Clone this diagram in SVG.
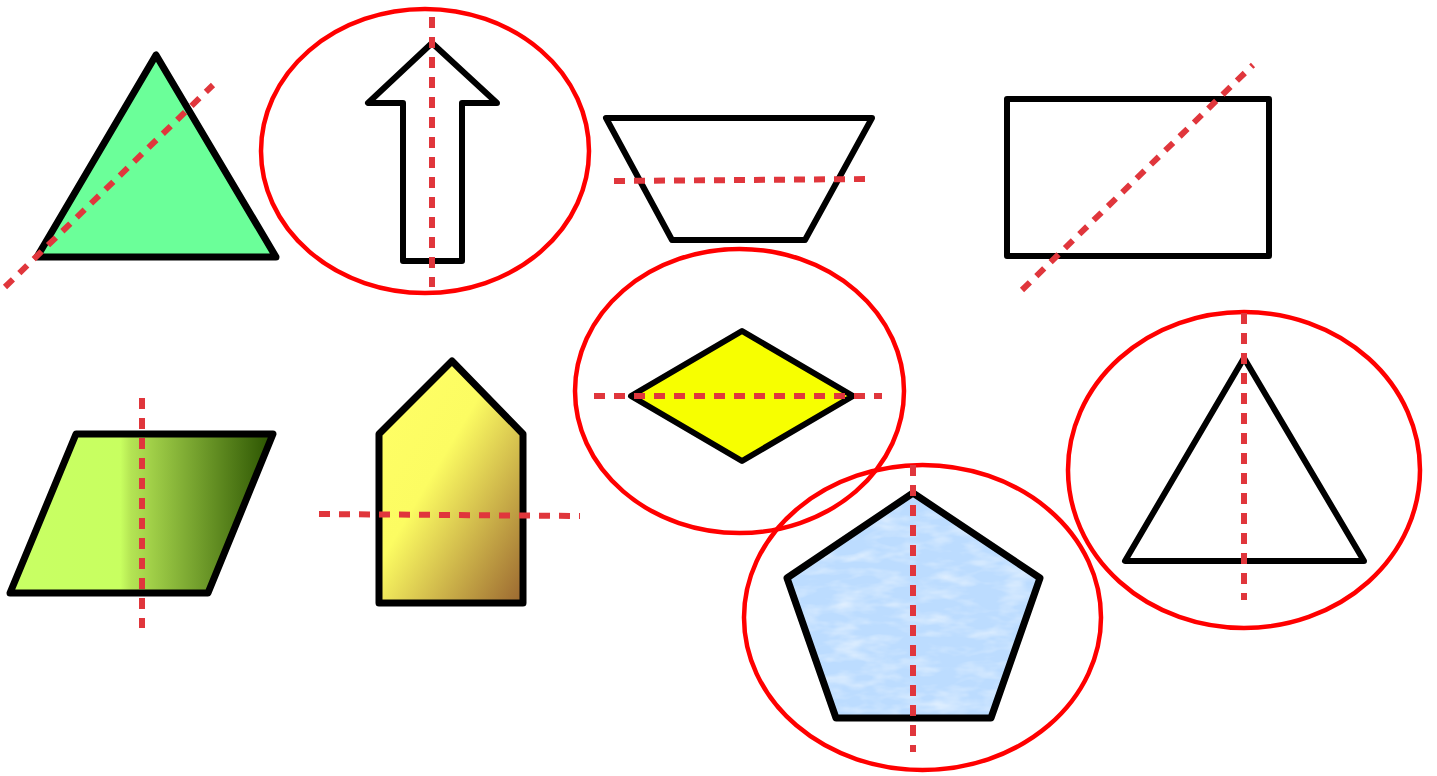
<svg xmlns="http://www.w3.org/2000/svg" width="1437" height="776" viewBox="0 0 1437 776">
<style>
.sh{stroke:#000;stroke-width:7;stroke-linejoin:round}
.thin{stroke-width:6}
.ring{fill:none;stroke:#ff0000;stroke-width:4.5}
.axis{fill:none;stroke:#e0363c;stroke-width:6;stroke-dasharray:11 9}
</style>
<defs>
<linearGradient id="gPar" x1="0" y1="0" x2="1" y2="0">
<stop offset="0" stop-color="#c8ff64"/>
<stop offset="0.42" stop-color="#c8ff60"/>
<stop offset="0.46" stop-color="#b4e454"/>
<stop offset="1" stop-color="#2a5200"/>
</linearGradient>
<linearGradient id="gHouse" x1="0" y1="0" x2="1" y2="1">
<stop offset="0" stop-color="#ffff66"/>
<stop offset="0.42" stop-color="#fcfc62"/>
<stop offset="1" stop-color="#9a6630"/>
</linearGradient>
<filter id="cloud" x="0" y="0" width="1" height="1">
<feTurbulence type="fractalNoise" baseFrequency="0.03 0.08" numOctaves="3" seed="4" result="n"/>
<feColorMatrix in="n" type="matrix" values="0 0 0 0 0.72  0 0 0 0 0.85  0 0 0 0 1  0 0 0 0 0" result="base"/>
<feColorMatrix in="n" type="matrix" values="0 0 0 0 0.88  0 0 0 0 0.94  0 0 0 0 1  1.4 0 0 0 -0.6" result="hi"/>
<feMerge result="tex"><feMergeNode in="base"/><feMergeNode in="hi"/></feMerge>
<feComposite in="tex" in2="SourceGraphic" operator="in"/>
</filter>
</defs>

<g id="triangle-green">
<polygon class="sh" fill="#6bff99" points="156,55 37,257 276,257"/>
<line class="axis" x1="5" y1="287" x2="213" y2="85"/>
</g>

<g id="arrow-up">
<ellipse class="ring" cx="425" cy="151" rx="164" ry="142"/>
<polygon class="sh thin" fill="#fff" points="432,43 368,103 403,103 403,261 462,261 462,103 497,103"/>
<line class="axis" x1="432" y1="17" x2="432" y2="287"/>
</g>

<g id="trapezoid">
<polygon class="sh thin" fill="#fff" points="606,118 872,118 805,240 672,240"/>
<line class="axis" x1="614" y1="181" x2="870" y2="179"/>
</g>

<g id="rectangle">
<rect class="sh thin" fill="#fff" x="1007" y="99" width="262" height="157"/>
<line class="axis" x1="1022" y1="290" x2="1253" y2="65"/>
</g>

<g id="parallelogram">
<polygon class="sh" fill="url(#gPar)" points="76,434 273,434 208,593 10,593"/>
<line class="axis" x1="142" y1="398" x2="142" y2="628"/>
</g>

<g id="house">
<polygon class="sh" fill="url(#gHouse)" points="452,361 523,434 523,603 379,603 379,434"/>
<line class="axis" x1="319" y1="514" x2="580" y2="516"/>
</g>

<g id="diamond">
<ellipse class="ring" cx="739.5" cy="391" rx="164.5" ry="142"/>
<polygon class="sh thin" fill="#f7ff00" points="631,396 742,331 853,396 742,461"/>
<line class="axis" x1="594" y1="396" x2="882" y2="396"/>
</g>

<g id="pentagon">
<ellipse class="ring" cx="922.5" cy="617.5" rx="178.5" ry="152.5"/>
<polygon fill="#bcdcff" points="913,493 1040,578 991,718 836,718 787,578"/>
<polygon filter="url(#cloud)" fill="#000" points="913,493 1040,578 991,718 836,718 787,578"/>
<polygon class="sh" fill="none" points="913,493 1040,578 991,718 836,718 787,578"/>
<line class="axis" x1="913" y1="465" x2="913" y2="752"/>
</g>

<g id="triangle-white">
<ellipse class="ring" cx="1244" cy="470" rx="176" ry="158"/>
<polygon class="sh thin" fill="#fff" points="1244,358 1125,561 1364,561"/>
<line class="axis" x1="1244" y1="313" x2="1244" y2="600"/>
</g>
</svg>
